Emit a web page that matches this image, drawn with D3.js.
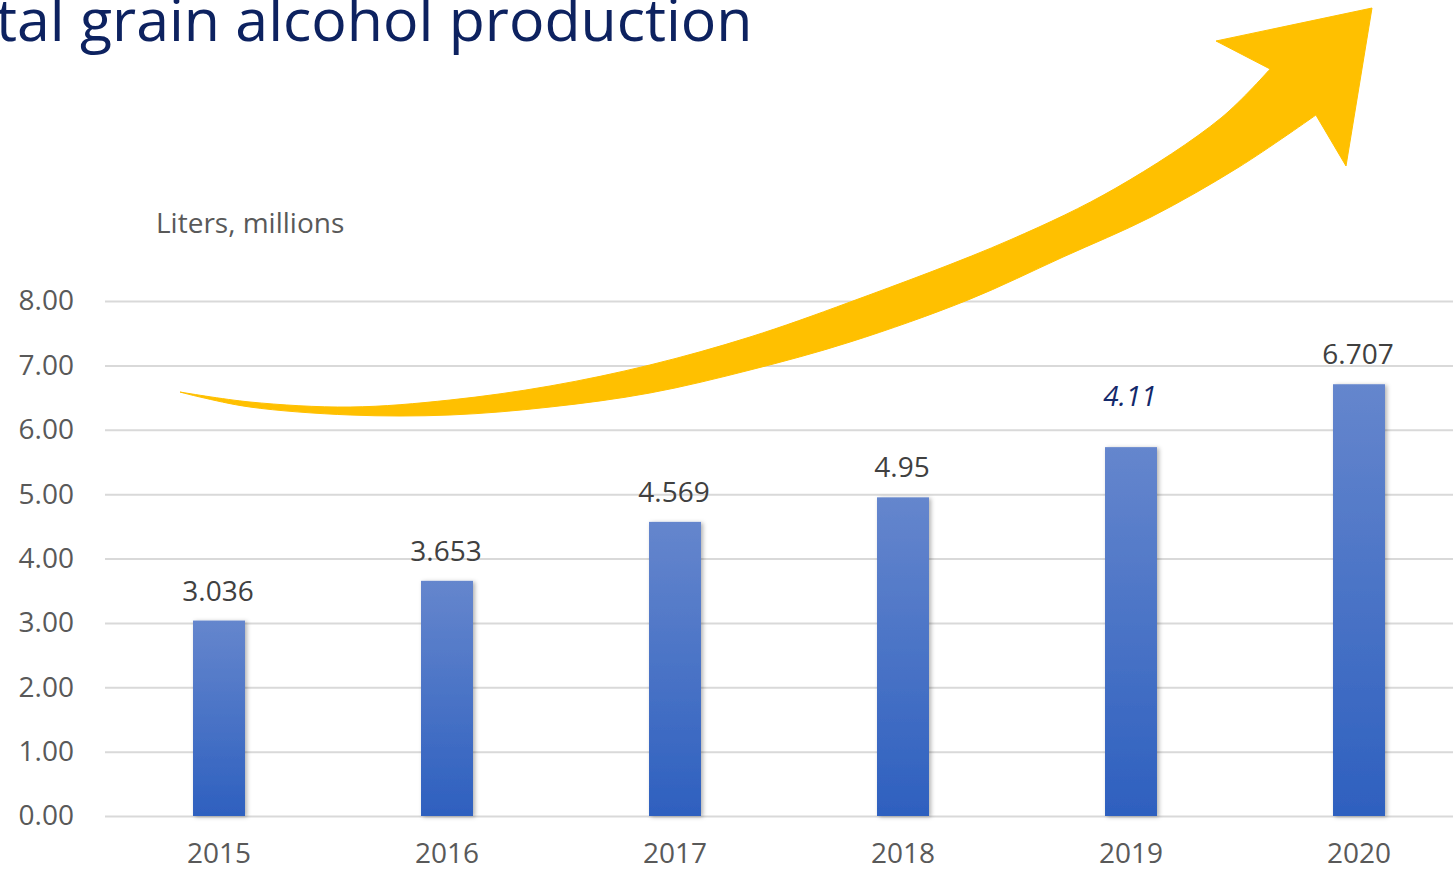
<!DOCTYPE html>
<html>
<head>
<meta charset="utf-8">
<script src="https://cdn.jsdelivr.net/npm/d3@7"></script>
<style>
  body { margin: 0; background: #fff; overflow: hidden; }
  text { font-family: "Open Sans", "Noto Sans", sans-serif; }
</style>
</head>
<body>
<div id="plot"></div>
<script>
// data
var years = ["2015", "2016", "2017", "2018", "2019", "2020"];
var values = [3.036, 3.653, 4.569, 4.95, 5.73, 6.707];
var valueLabels = ["3.036", "3.653", "4.569", "4.95", "4.11", "6.707"];
var yTicks = [0, 1, 2, 3, 4, 5, 6, 7, 8];

// growth arrow outline, in (category index, value) units
var arrowUpper = [[-0.171, 6.586], [0.136, 6.431], [0.575, 6.353], [1.013, 6.462], [1.452, 6.680],
  [1.890, 7.006], [2.329, 7.441], [2.768, 7.984], [3.469, 8.948], [3.934, 9.755], [4.395, 10.843],
  [4.610, 11.604]];
var arrowHead = [[4.610, 11.604], [4.373, 12.039], [5.057, 12.551], [4.943, 10.097], [4.811, 10.889]];
var arrowLower = [[4.811, 10.889], [4.474, 10.082], [4.088, 9.305], [3.702, 8.683], [3.285, 8.016],
  [2.768, 7.363], [2.329, 6.928], [1.890, 6.571], [1.452, 6.353], [1.013, 6.229], [0.575, 6.229],
  [0.136, 6.353], [-0.083, 6.508], [-0.171, 6.586]];

var W = 1453, H = 871;
var margin = { top: 301, right: -20, bottom: 55, left: 105 };
var width = W - margin.left - margin.right;
var height = H - margin.top - margin.bottom;

var root = d3.select("div#plot").append("svg")
  .attr("width", W)
  .attr("height", H);

var defs = root.append("defs");
var grad = defs.append("linearGradient")
  .attr("id", "barGrad")
  .attr("x1", 0).attr("y1", 0).attr("x2", 0).attr("y2", 1);
grad.append("stop").attr("offset", "0%").attr("stop-color", "#6586CD");
grad.append("stop").attr("offset", "100%").attr("stop-color", "#2E60BF");

var shadow = defs.append("filter").attr("id", "shadow")
  .attr("x", "-20%").attr("y", "-5%").attr("width", "150%").attr("height", "115%");
shadow.append("feDropShadow")
  .attr("dx", 2).attr("dy", 1).attr("stdDeviation", 2)
  .attr("flood-color", "#000").attr("flood-opacity", 0.3);

var svg = root.append("g")
  .attr("transform", "translate(" + margin.left + "," + margin.top + ")");

var xscale = d3.scaleBand()
  .domain(years)
  .range([0, width])
  .paddingInner(0.772)
  .paddingOuter(0.386);

var yscale = d3.scaleLinear()
  .domain([0, 8])
  .range([height, 0]);

// index scale for the arrow, category centres
var xi = d3.scaleLinear()
  .domain([0, years.length - 1])
  .range([xscale(years[0]) + xscale.bandwidth() / 2,
          xscale(years[years.length - 1]) + xscale.bandwidth() / 2]);

// title (cut at the left edge like the slide)
root.append("text")
  .attr("x", -4)
  .attr("y", 41)
  .style("font-size", "59px")
  .style("fill", "#0D2260")
  .text("tal grain alcohol production");

root.append("text")
  .attr("x", 156)
  .attr("y", 233)
  .style("font-size", "28px")
  .style("fill", "#595959")
  .text("Liters, millions");

// gridlines + y labels
var yAxis = d3.axisLeft(yscale)
  .tickValues(yTicks)
  .tickSize(-width)
  .tickPadding(31)
  .tickFormat(d3.format(".2f"));

var gy = svg.append("g").attr("class", "y axis").call(yAxis);
gy.select(".domain").remove();
gy.selectAll("line").attr("stroke", "#D9D9D9").attr("stroke-width", 2);
gy.selectAll("text")
  .style("font-size", "28px")
  .style("fill", "#595959")
  .style("font-family", "'Open Sans', 'Noto Sans', sans-serif");

var xAxis = d3.axisBottom(xscale).tickSize(0);
var gx = svg.append("g")
  .attr("transform", "translate(0," + height + ")")
  .call(xAxis);
gx.select(".domain").remove();
gx.selectAll("text")
  .attr("y", 47)
  .attr("dy", null)
  .style("font-size", "28px")
  .style("fill", "#595959")
  .style("font-family", "'Open Sans', 'Noto Sans', sans-serif");

// bars
svg.selectAll("rect.bar")
  .data(values)
  .enter().append("rect")
  .attr("class", "bar")
  .attr("x", function(d, i) { return xscale(years[i]); })
  .attr("y", function(d) { return yscale(d); })
  .attr("width", xscale.bandwidth())
  .attr("height", function(d) { return height - yscale(d); })
  .attr("fill", "url(#barGrad)")
  .attr("filter", "url(#shadow)");

// value labels (2019 label sits higher, italic)
svg.selectAll("text.val")
  .data(values)
  .enter().append("text")
  .attr("class", "val")
  .attr("x", function(d, i) { return xscale(years[i]) + xscale.bandwidth() / 2 - 1; })
  .attr("y", function(d, i) { return yscale(d) - (i === 4 ? 41 : 20); })
  .attr("text-anchor", "middle")
  .style("font-size", "28px")
  .style("font-style", function(d, i) { return i === 4 ? "italic" : "normal"; })
  .style("fill", function(d, i) { return i === 4 ? "#13296B" : "#404040"; })
  .text(function(d, i) { return valueLabels[i]; });

// growth arrow
var edge = d3.line()
  .x(function(d) { return xi(d[0]); })
  .y(function(d) { return yscale(d[1]); })
  .curve(d3.curveCatmullRom.alpha(0.5));
var straight = d3.line()
  .x(function(d) { return xi(d[0]); })
  .y(function(d) { return yscale(d[1]); });

var p = edge(arrowUpper) + straight(arrowHead).replace(/^M/, "L") +
        edge(arrowLower).replace(/^M/, "L") + "Z";
svg.append("path")
  .attr("d", p)
  .attr("fill", "#FFC000")
  .attr("stroke", "#FFC000")
  .attr("stroke-width", 1)
  .attr("stroke-linejoin", "round");
</script>
</body>
</html>
